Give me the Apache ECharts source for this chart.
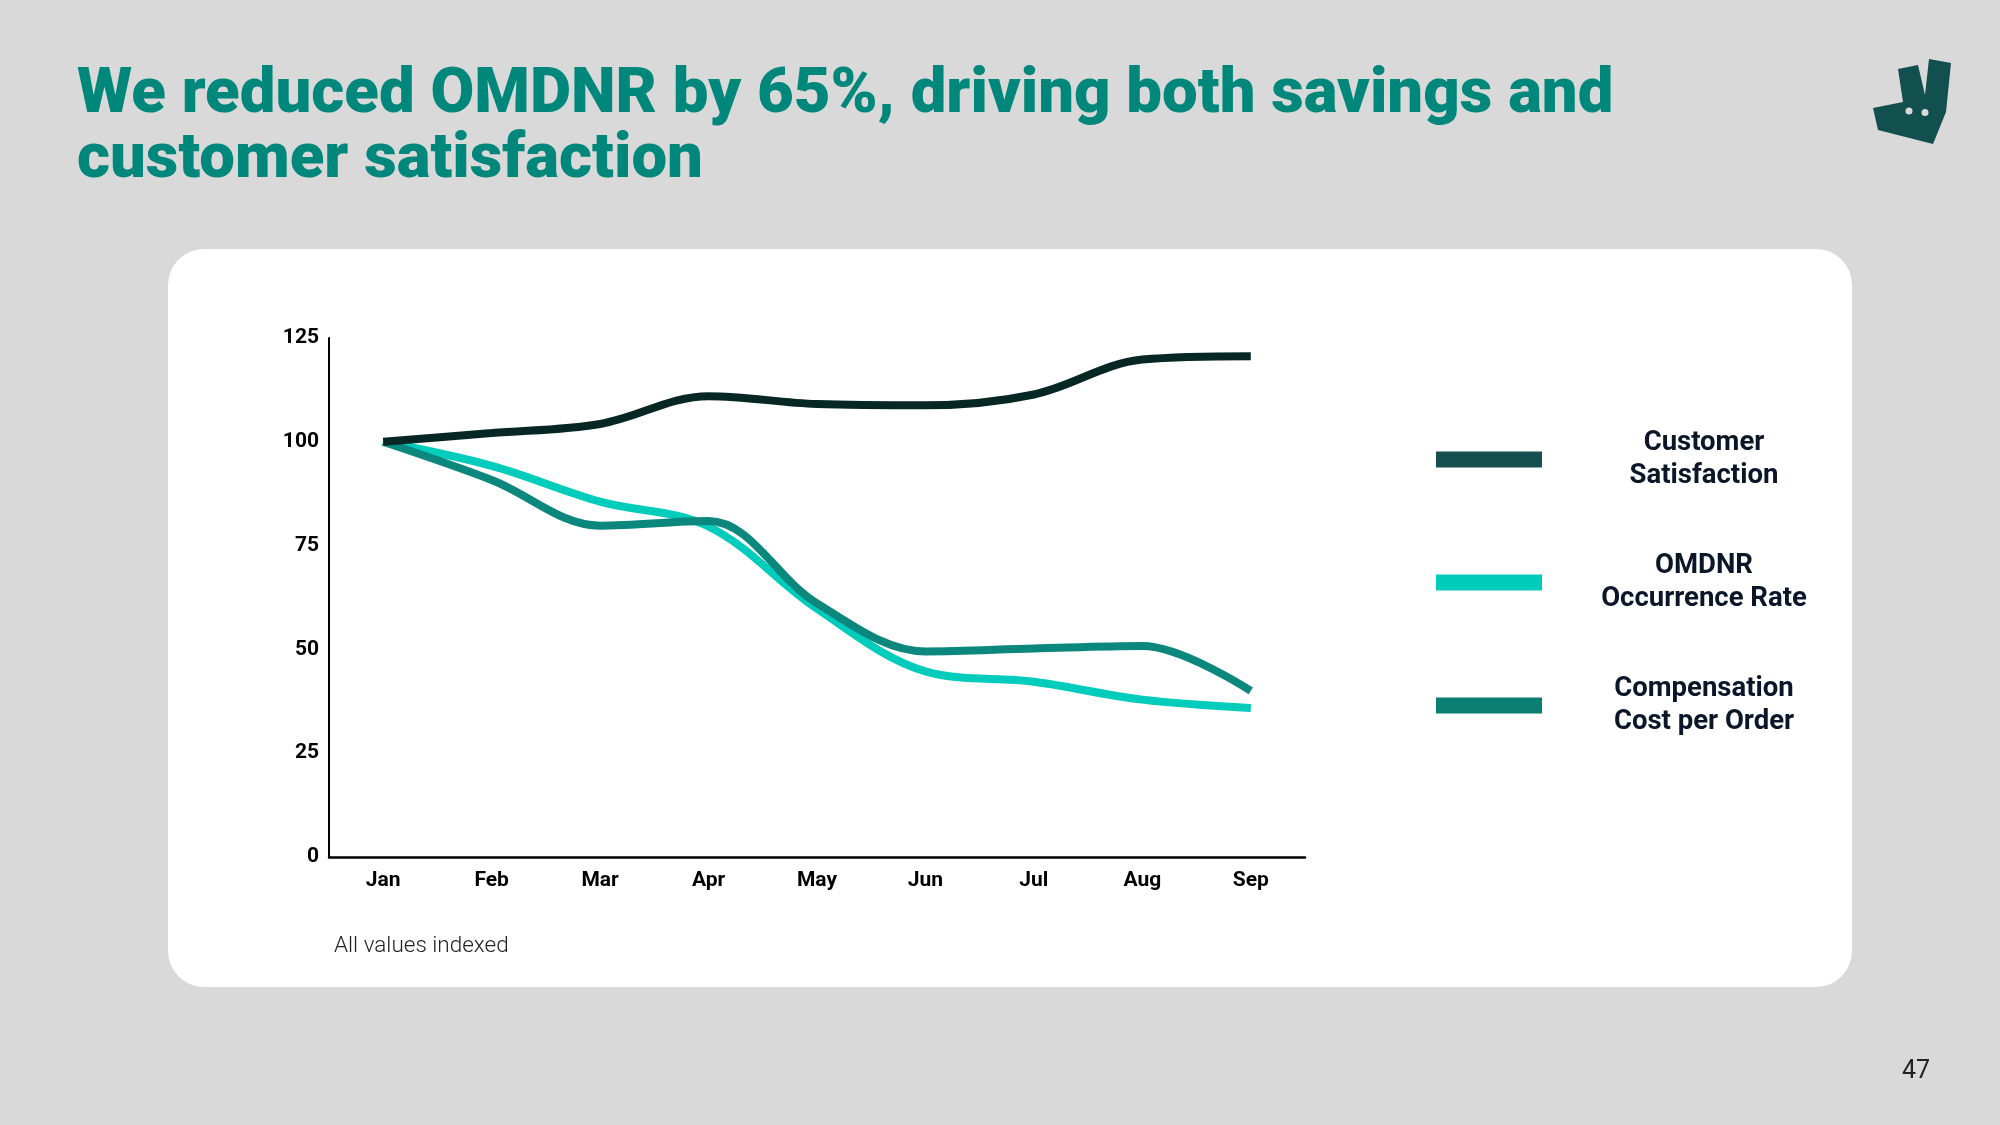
<!DOCTYPE html>
<html>
<head>
<meta charset="utf-8">
<script src="https://cdn.jsdelivr.net/npm/echarts@6/dist/echarts.min.js"></script>
<style>
html,body{margin:0;padding:0;background:#d9d9d9;}
#c{width:2000px;height:1125px;}
</style>
</head>
<body>
<div id="c"></div>
<script>
const months = ['Jan','Feb','Mar','Apr','May','Jun','Jul','Aug','Sep'];
const seriesNames = ['Customer Satisfaction','OMDNR Occurrence Rate','Compensation Cost per Order'];
const legendLabels = ['Customer\nSatisfaction','OMDNR\nOccurrence Rate','Compensation\nCost per Order'];
const customerSatisfaction = [100, 102.1, 104.3, 111, 109.1, 108.8, 111.4, 119.8, 120.6];
const omdnrRate = [100, 94.2, 85.6, 79.6, 59.8, 44.7, 42.2, 37.9, 35.9];
const compensationCost = [100, 90.8, 79.8, 80.9, 61.1, 49.5, 50.2, 50.8, 40];
const yTicks = [0, 25, 50, 75, 100, 125];
const titleText = 'We reduced OMDNR by 65%, driving both savings and\ncustomer satisfaction';
const footnote = 'All values indexed';
const pageNumber = '47';

const chart = echarts.init(document.getElementById('c'));
const labelMap = {};
seriesNames.forEach((n, i) => labelMap[n] = legendLabels[i]);

chart.setOption({
  backgroundColor: '#d9d9d9',
  animation: false,
  title: {
    text: titleText,
    left: 72, top: 59,
    textStyle: {
      color: '#00877b', fontFamily: 'Roboto', fontWeight: 900,
      fontSize: 63.5, lineHeight: 65
    }
  },
  graphic: [
    { type: 'rect', z: -10, shape: { x: 168, y: 249, width: 1684, height: 738, r: 36 }, style: { fill: '#ffffff' } },
    { type: 'polygon', shape: { points: [[1873,108],[1903,102],[1898,69],[1918,65],[1925,95],[1929,59],[1951,63],[1946,112],[1933,144],[1878,130]] }, style: { fill: '#124f4f' } },
    { type: 'circle', shape: { cx: 1909, cy: 111, r: 3.5 }, style: { fill: '#d9d9d9' } },
    { type: 'circle', shape: { cx: 1925, cy: 112.5, r: 3.5 }, style: { fill: '#d9d9d9' } },
    { type: 'text', left: 334, top: 935, style: { text: footnote, fontFamily: 'Roboto', fontWeight: 300, fontSize: 22.5, fill: '#222' } },
    { type: 'text', left: 1902, top: 1059, style: { text: pageNumber, fontFamily: 'Roboto', fontWeight: 400, fontSize: 25, fill: '#222' } }
  ],
  legend: {
    orient: 'vertical',
    left: 1431, top: 424,
    itemWidth: 106, itemHeight: 16,
    itemGap: 62,
    icon: 'rect',
    data: [
      { name: seriesNames[0], itemStyle: { color: '#13504f' } },
      { name: seriesNames[1], itemStyle: { color: '#00ccbc' } },
      { name: seriesNames[2], itemStyle: { color: '#0c7f75' } }
    ],
    formatter: n => '{t|' + labelMap[n].split('\n').join('}\n{t|') + '}',
    textStyle: {
      rich: { t: { width: 314, align: 'center', fontFamily: 'Roboto', fontWeight: 700, fontSize: 27.5, lineHeight: 33, color: '#0b1629' } }
    }
  },
  grid: { left: 329, top: 338, width: 976, height: 519 },
  xAxis: {
    type: 'category', data: months, boundaryGap: true,
    axisLine: { lineStyle: { color: '#000', width: 2.5 } },
    axisTick: { show: false },
    axisLabel: { color: '#000', fontFamily: 'Roboto', fontWeight: 700, fontSize: 21, margin: 13 }
  },
  yAxis: {
    type: 'value', min: 0, max: 125, interval: 25,
    axisLine: { show: true, lineStyle: { color: '#000', width: 2 } },
    axisTick: { show: false },
    splitLine: { show: false },
    axisLabel: { color: '#000', fontFamily: 'Roboto', fontWeight: 700, fontSize: 21, margin: 10 }
  },
  series: [
    { name: seriesNames[1], type: 'line', data: omdnrRate, smooth: 0.35, showSymbol: false, z: 2,
      itemStyle: { color: '#00ccbc' }, lineStyle: { color: '#00ccbc', width: 8, cap: 'butt' } },
    { name: seriesNames[2], type: 'line', data: compensationCost, smooth: 0.35, showSymbol: false, z: 3,
      itemStyle: { color: '#0c877d' }, lineStyle: { color: '#0c877d', width: 8, cap: 'butt' } },
    { name: seriesNames[0], type: 'line', data: customerSatisfaction, smooth: 0.35, showSymbol: false, z: 4,
      itemStyle: { color: '#062723' }, lineStyle: { color: '#062723', width: 8, cap: 'butt' } }
  ]
});
</script>
</body>
</html>
